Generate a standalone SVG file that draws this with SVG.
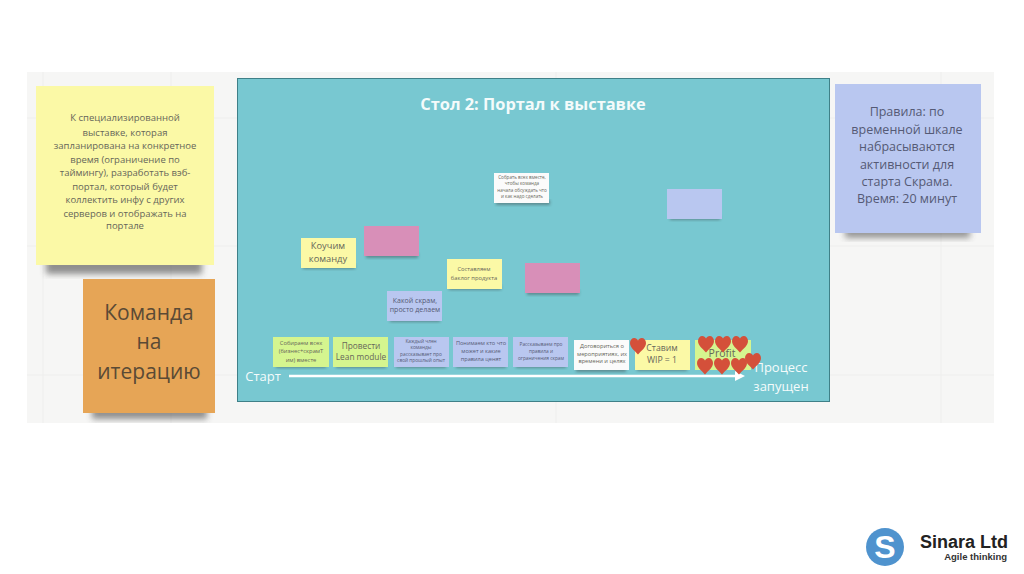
<svg xmlns="http://www.w3.org/2000/svg" width="1024" height="574" viewBox="0 0 1024 574">
<style>
text{font-family:"Open Sans","Noto Sans","DejaVu Sans",sans-serif;text-anchor:middle;fill:#66665a}
.w{fill:#f4fbfb}
.b{fill:#555a75}
.y{fill:#fbf9a6}.g{fill:#d5f58f}.p{fill:#b9c7f0}.m{fill:#d88fb8}.wh{fill:#fbfbfb}.o{fill:#e6a556}
.grid{stroke:#eeeeed;stroke-width:1}
</style>
<defs>
<filter id="s" x="-20%" y="-20%" width="140%" height="150%"><feGaussianBlur stdDeviation="1.500"/></filter>
<filter id="s2" x="-20%" y="-20%" width="140%" height="150%"><feGaussianBlur stdDeviation="3"/></filter>
<path id="h" d="M0 8.500C-3 5-8 1.500-8-3C-8-6-6-8-3.800-8C-2-8-.8-7 0-5.500C.8-7 2-8 3.800-8C6-8 8-6 8-3C8 1.500 3 5 0 8.500Z" fill="#d4503a"/>
</defs>
<rect width="1024" height="574" fill="#fff"/>
<rect id="board" x="27" y="72" width="967" height="351" fill="#f6f6f5"/>
<g id="grid" class="grid">
<path d="M27 118H994M27 246H994M27 375H994M43 72V423M171 72V423M556 72V423M941 72V423"/>
</g>
<g id="frame"><rect x="237.500" y="78.500" width="592" height="323" fill="#78c8d1" stroke="#3f8088"/>
<text x="533" y="109.500" font-size="16.400" font-weight="700" class="w">Стол 2: Портал к выставке</text></g>
<g id="note-task">
<rect x="46" y="258" width="156" height="16" fill="#3a3a3a" opacity=".55" filter="url(#s2)"/>
<rect x="36" y="86" width="178" height="179" class="y"/>
<text font-size="9.500"><tspan x="125" y="121">К специализированной</tspan><tspan x="125" y="135.500">выставке, которая</tspan><tspan x="125" y="149">запланирована на конкретное</tspan><tspan x="125" y="162.500">время (ограничение по</tspan><tspan x="125" y="176">таймингу), разработать вэб-</tspan><tspan x="125" y="189.500">портал, который будет</tspan><tspan x="125" y="203">коллектить инфу с других</tspan><tspan x="125" y="216.500">серверов и отображать на</tspan><tspan x="125" y="229">портале</tspan></text></g>
<g id="note-team">
<rect x="92" y="406" width="115" height="13" fill="#3a3a3a" opacity=".55" filter="url(#s2)"/>
<rect x="83" y="279" width="132" height="134" class="o"/>
<text font-size="21" style="fill:#5a4a35"><tspan x="149" y="320">Команда</tspan><tspan x="149" y="349">на</tspan><tspan x="149" y="378.500">итерацию</tspan></text></g>
<g id="note-rules">
<rect x="845" y="226" width="125" height="12" fill="#3a3a3a" opacity=".5" filter="url(#s2)"/>
<rect x="835" y="84" width="146" height="149" class="p"/>
<text font-size="12.500" class="b"><tspan x="907" y="116">Правила: по</tspan><tspan x="907" y="134">временной шкале</tspan><tspan x="907" y="151">набрасываются</tspan><tspan x="907" y="168.500">активности для</tspan><tspan x="907" y="186">старта Скрама.</tspan><tspan x="907" y="203">Время: 20 минут</tspan></text></g>
<g id="note-gather"><rect x="496" y="200" width="54" height="5" fill="#333" opacity=".4" filter="url(#s)"/><rect x="494" y="173" width="55" height="30" class="wh"/>
<text font-size="4.600"><tspan x="522" y="178.500">Собрать всех вместе,</tspan><tspan x="522" y="185">чтобы команда</tspan><tspan x="522" y="191.500">начала обсуждать что</tspan><tspan x="522" y="198">и как надо сделать</tspan></text></g>
<g id="note-blue"><rect x="670" y="215" width="50" height="5" fill="#333" opacity=".4" filter="url(#s)"/><rect x="667" y="189" width="55" height="30" class="p"/></g>
<g id="note-coach"><rect x="303" y="264" width="52" height="5" fill="#333" opacity=".4" filter="url(#s)"/><rect x="301" y="238" width="55" height="30" class="y"/>
<text font-size="9.300"><tspan x="328" y="249">Коучим</tspan><tspan x="328" y="262">команду</tspan></text></g>
<g id="note-pink1"><rect x="366" y="253" width="52" height="5" fill="#333" opacity=".4" filter="url(#s)"/><rect x="364" y="226" width="55" height="30" class="m"/></g>
<g id="note-backlog"><rect x="449" y="285" width="52" height="5" fill="#333" opacity=".4" filter="url(#s)"/><rect x="447" y="259" width="55" height="30" class="y"/>
<text font-size="5.800"><tspan x="474" y="270.500">Составляем</tspan><tspan x="474" y="279.500">баклог продукта</tspan></text></g>
<g id="note-pink2"><rect x="527" y="290" width="52" height="5" fill="#333" opacity=".4" filter="url(#s)"/><rect x="525" y="263" width="55" height="30" class="m"/></g>
<g id="note-scrum"><rect x="390" y="317" width="50" height="5" fill="#333" opacity=".4" filter="url(#s)"/><rect x="387" y="291" width="55" height="30" class="p"/>
<text font-size="7" class="b"><tspan x="415" y="303">Какой скрам,</tspan><tspan x="415" y="312">просто делаем</tspan></text></g>
<g id="note-s1"><rect x="276" y="363" width="50" height="5" fill="#333" opacity=".4" filter="url(#s)"/><rect x="273" y="337" width="56" height="30" class="g"/>
<text font-size="5.800"><tspan x="301" y="345">Собираем всех</tspan><tspan x="301" y="353">(бизнес+скрамТ</tspan><tspan x="301" y="362">им) вместе</tspan></text></g>
<g id="note-s2"><rect x="336" y="363" width="50" height="5" fill="#333" opacity=".4" filter="url(#s)"/><rect x="333" y="337" width="55" height="30" class="g"/>
<text font-size="8.300"><tspan x="361" y="349">Провести</tspan><tspan x="361" y="359.500">Lean module</tspan></text></g>
<g id="note-s3"><rect x="396" y="363" width="50" height="5" fill="#333" opacity=".4" filter="url(#s)"/><rect x="394" y="337" width="55" height="30" class="p"/>
<text font-size="4.800" class="b"><tspan x="421" y="343">Каждый член</tspan><tspan x="421" y="349">команды</tspan><tspan x="421" y="356">рассказывает про</tspan><tspan x="421" y="362">свой прошлый опыт</tspan></text></g>
<g id="note-s4"><rect x="456" y="363" width="50" height="5" fill="#333" opacity=".4" filter="url(#s)"/><rect x="453" y="337" width="55" height="30" class="p"/>
<text font-size="5.600" class="b"><tspan x="481" y="345">Понимаем кто что</tspan><tspan x="481" y="353">может и какие</tspan><tspan x="481" y="361">правила ценят</tspan></text></g>
<g id="note-s5"><rect x="516" y="363" width="50" height="5" fill="#333" opacity=".4" filter="url(#s)"/><rect x="513" y="337" width="55" height="30" class="p"/>
<text font-size="4.800" class="b"><tspan x="541" y="346">Рассказываем про</tspan><tspan x="541" y="353">правила и</tspan><tspan x="541" y="360">ограничения скрам</tspan></text></g>
<g id="note-s6"><rect x="576" y="367" width="50" height="5" fill="#333" opacity=".4" filter="url(#s)"/><rect x="574" y="340" width="55" height="30" class="wh"/>
<text font-size="5.700"><tspan x="602" y="348">Договориться о</tspan><tspan x="602" y="355.500">мероприятиях, их</tspan><tspan x="602" y="363">времени и целях</tspan></text></g>
<g id="note-s7"><rect x="637" y="366" width="50" height="5" fill="#333" opacity=".4" filter="url(#s)"/><rect x="635" y="340" width="55" height="30" class="y"/>
<text font-size="8.700"><tspan x="662" y="351">Ставим</tspan><tspan x="662" y="363">WIP = 1</tspan></text></g>
<g id="note-s8"><rect x="695" y="340" width="56" height="30" class="g"/><text x="722" y="357" font-size="10.500">Profit</text></g>
<g id="connectors"><path d="M289 376H737" stroke="#fff" stroke-width="2.500" fill="none"/><path d="M735 371L745 376L735 381Z" fill="#fff"/></g>
<g id="labels"><text x="263" y="380.500" font-size="13" class="w">Старт</text>
<text font-size="13" class="w"><tspan x="781" y="371.500">Процесс</tspan><tspan x="781" y="390.500">запущен</tspan></text></g>
<g id="hearts">
<use href="#h" x="638" y="346"/><use href="#h" x="706" y="344"/><use href="#h" x="723" y="344"/><use href="#h" x="740" y="344"/><use href="#h" x="705" y="366"/><use href="#h" x="722" y="366"/><use href="#h" x="739" y="366"/><use href="#h" x="753" y="361"/>
</g>
<g id="logo"><circle cx="885" cy="547" r="19" fill="#4f93ce"/><text x="885" y="558" font-size="32" font-weight="700" style="fill:#fff;font-family:'Liberation Sans',sans-serif">S</text>
<text x="920" y="548" font-size="18" font-weight="700" style="fill:#222;text-anchor:start;font-family:'Liberation Sans',sans-serif">Sinara Ltd</text>
<text x="1007" y="560" font-size="9.500" font-weight="700" style="fill:#333;text-anchor:end;font-family:'Liberation Sans',sans-serif">Agile thinking</text></g>
</svg>
